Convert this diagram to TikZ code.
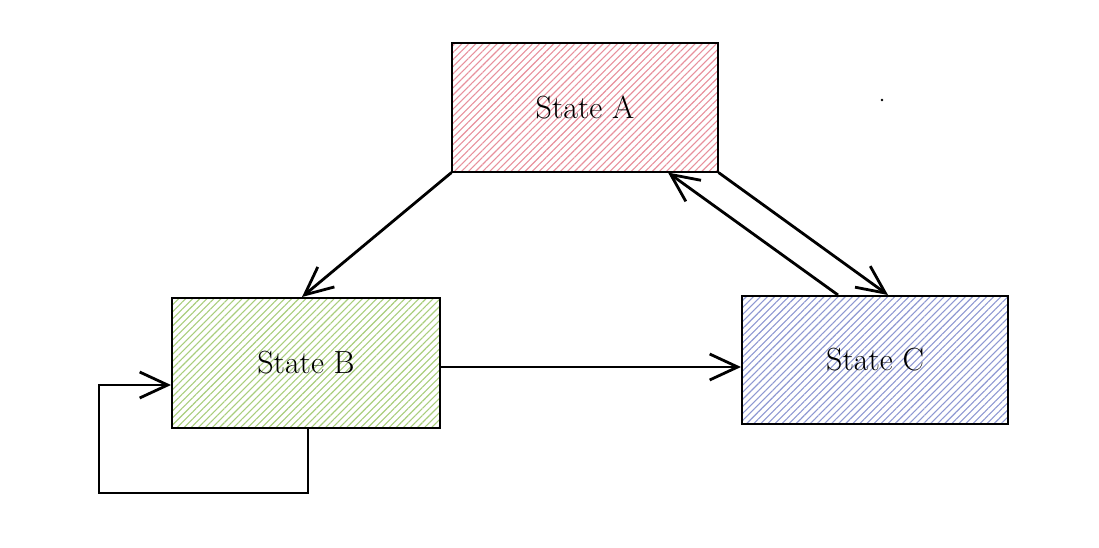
\documentclass[tikz,border=0pt]{standalone}
\usepackage{fontspec}
\usetikzlibrary{patterns.meta,arrows.meta}
\definecolor{hatchA}{HTML}{E8909C}
\definecolor{hatchB}{HTML}{A9CE7C}
\definecolor{hatchC}{HTML}{8E98D2}
\tikzset{
  state/.style={draw=black, line width=2pt, minimum width=266pt,
    minimum height=129pt, inner sep=0pt,
    font=\fontsize{32}{36}\selectfont},
  hatch/.style={pattern={Lines[angle=45,distance=5pt,line width=1.1pt]},
    pattern color=#1}
}
\begin{document}
\begin{tikzpicture}[x=1pt,y=-1pt,line width=2.8pt,
    >={Straight Barb[length=28pt,width=26pt,line width=2.8pt]}]
    \fill[white] (0,0) rectangle (1099,548);
    \useasboundingbox (0,0) rectangle (1099,548);
    \node[state,hatch=hatchA] (A) at (585,107.5) {State A};
    \node[state,hatch=hatchB,minimum width=268pt,minimum height=130pt] (B) at (306,363) {State B};
    \node[state,hatch=hatchC,minimum height=128pt] (C) at (875,360) {State C};
    \path (A.south west) edge [->] ([xshift=-4pt]B.north);
    \path (B.east |- 0,367) edge [->] (C.west |- 0,367);
    \path (A.south east) edge [->] ([xshift=13pt]C.north);
    \path ([xshift=-37pt]C.north) edge [->] ([xshift=83pt]A.south);
    \draw[->] ([xshift=2pt]B.south) -- ++(0,64) -| ([xshift=-72pt,yshift=-22pt]B.west)
      -- ([yshift=-22pt]B.west);
    \fill (882,100) circle (1.3pt);
\end{tikzpicture}
\end{document}
